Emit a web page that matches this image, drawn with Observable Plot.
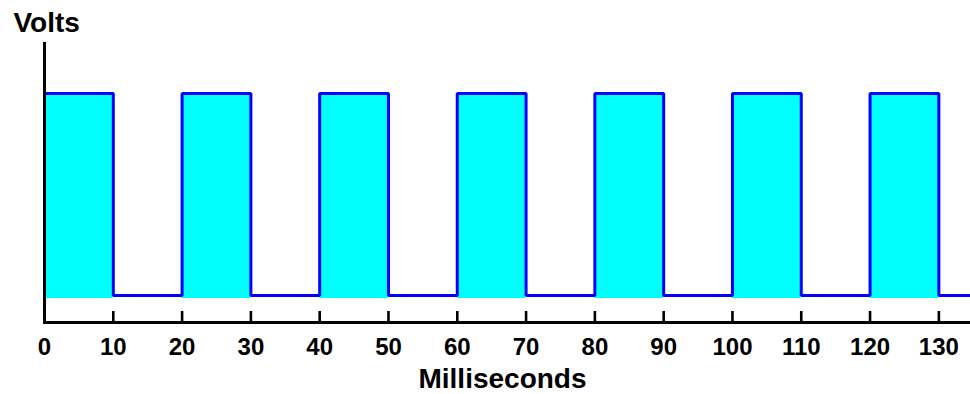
<!DOCTYPE html>
<html>
<head>
<meta charset="utf-8">
<script src="https://cdn.jsdelivr.net/npm/d3@7"></script>
<script src="https://cdn.jsdelivr.net/npm/@observablehq/plot@0.6"></script>
<style>
  html, body { margin: 0; padding: 0; background: #ffffff; }
  #chart svg { display: block; }
</style>
</head>
<body>
<div id="chart"></div>
<script>
// Square-wave signal: edge times (ms) and voltage level after each edge
const edgeTimes = [0, 10, 20, 30, 40, 50, 60, 70, 80, 90, 100, 110, 120, 130, 140];
const levels    = [1, 0, 1, 0, 1, 0, 1, 0, 1, 0, 1, 0, 1, 0, 0];
// High pulses (start time, duration) for the cyan fill
const pulseStarts = [0, 20, 40, 60, 80, 100, 120];
const pulseWidth = 10;
const highLevel = 1;
const lowLevel = 0;
// Axis tick labels
const tickValues = [0, 10, 20, 30, 40, 50, 60, 70, 80, 90, 100, 110, 120, 130];
const xLabel = "Milliseconds";
const yLabel = "Volts";

const signal = edgeTimes.map((t, i) => ({t, v: levels[i]}));
const pulses = pulseStarts.map(s => ({x1: s, x2: s + pulseWidth, y1: lowLevel, y2: highLevel}));

const font = "'Liberation Sans', Arial, sans-serif";

const chart = Plot.plot({
  width: 970,
  height: 394,
  marginTop: 43,
  marginBottom: 72,
  marginLeft: 44,
  marginRight: 0,
  style: {background: "#ffffff", fontFamily: font, color: "#000"},
  x: {domain: [0, 134.6], axis: null},
  y: {domain: [lowLevel, highLevel], range: [295, 93], axis: null},
  marks: [
    Plot.rect(pulses, {x1: "x1", x2: "x2", y1: "y1", y2: "y2", fill: "#00ffff", insetBottom: -3, insetLeft: 0, insetRight: 0}),
    Plot.line(signal, {x: "t", y: "v", curve: "step-after", stroke: "#0000ff", strokeWidth: 3, strokeLinejoin: "miter", strokeLinecap: "square", clip: true}),
    Plot.tickX(tickValues, {x: d => d, insetTop: 268, stroke: "#000", strokeWidth: 2.6}),
    Plot.frame({anchor: "bottom", stroke: "#000", strokeWidth: 3}),
    Plot.frame({anchor: "left", stroke: "#000", strokeWidth: 3}),
    Plot.axisX({ticks: tickValues, tickSize: 0, tickPadding: 15, fontSize: 24, fontWeight: "bold", fill: "#000", label: null, tickFormat: d => String(d)}),
    Plot.text([xLabel], {frameAnchor: "bottom", text: d => d, dy: 57, dx: -5, lineAnchor: "middle", fontSize: 28, fontWeight: "bold", fill: "#000"}),
    Plot.text([yLabel], {frameAnchor: "top-left", text: d => d, dx: -31, dy: -20, textAnchor: "start", lineAnchor: "middle", fontSize: 28, fontWeight: "bold", fill: "#000"})
  ]
});
document.getElementById("chart").appendChild(chart);
</script>
</body>
</html>
